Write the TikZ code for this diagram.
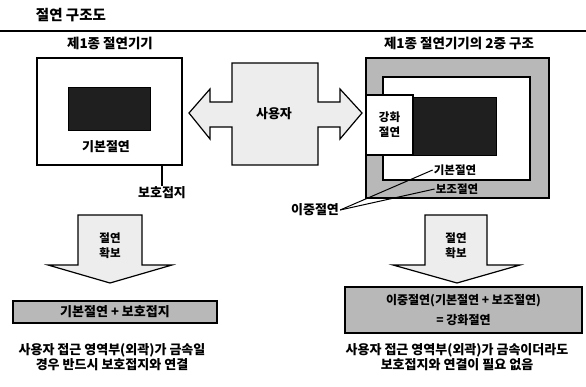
\documentclass[tikz,border=0pt]{standalone}
\usepackage{fontspec}
\setmainfont{Noto Sans CJK KR}
\usepackage{tikz}
\usetikzlibrary{positioning,calc}
\definecolor{dotgray}{gray}{0.93}
\definecolor{bandgray}{gray}{0.72}

\begin{document}
\begin{tikzpicture}[x=1pt, y=-1pt,
  frame/.style={rectangle, draw=black, line width=1.2pt, inner sep=0pt},
  core/.style={rectangle, fill=black!88, draw=black, inner sep=0pt},
  fat/.style={draw=black, line width=1.2pt, fill=dotgray, line join=miter},
  result/.style={rectangle, draw=black, line width=1.2pt, fill=bandgray, align=center, inner sep=0pt, font=\bfseries\fontsize{12}{20}\selectfont},
  head/.style={font=\bfseries\fontsize{13.5}{16}\selectfont},
  lbl/.style={font=\bfseries\fontsize{13}{15}\selectfont, align=center, inner sep=1pt},
  small/.style={font=\bfseries\fontsize{11.5}{15}\selectfont, align=center, inner sep=1pt}
]
\useasboundingbox (0,0) rectangle (586,386);
\node[font=\bfseries\fontsize{14.5}{16}\selectfont] (title) at (71,15) {절연 구조도};
\draw[line width=1.6pt] (0,31) -- (586,31);

\node[head] (h1) at (110,43) {제1종 절연기기};
\node[head] (h2) at (459,43) {제1종 절연기기의 2중 구조};

\node[frame, minimum width=145, minimum height=107] (dev1) at (109.5,111.5) {};
\node[core, minimum width=82, minimum height=43] (core1) at (109,108.5) {};
\node[lbl] (basic1) at (106,147) {기본절연};
\node[lbl] (gnd) at (162,193) {보호접지};
\draw[line width=1.2pt] (dev1.south -| gnd) -- (gnd.north);

\draw[fat] (189,113) -- (210,89) -- (210,102) -- (232,102) -- (232,63) -- (318,63) -- (318,102) -- (340,102)
  -- (340,89) -- (362,113) -- (340,139) -- (340,127) -- (318,127) -- (318,165) -- (232,165)
  -- (232,127) -- (210,127) -- (210,139) -- cycle;
\node[lbl] (user) at (274,114) {사용자};

\node[frame, fill=bandgray, minimum width=183, minimum height=140] (dev2) at (457.5,128) {};
\node[frame, fill=white, minimum width=147, minimum height=103] (inner2) at (456.5,128.5) {};
\node[core, minimum width=83, minimum height=58] (core2) at (454.5,126.5) {};
\node[frame, fill=white, minimum width=47, minimum height=60] (reinf) at (389.5,125) {};
\node[small] at (reinf) {강화\\절연};
\node[small] (basic2) at (455,170) {기본절연};
\node[small] (supp2) at (457,189) {보조절연};
\node[lbl] (dbl) at (315,210) {이중절연};
\draw[line width=1pt] (dbl.east) -- (basic2.west);
\draw[line width=1pt] (dbl.east) -- (supp2.west);

\draw[fat] (78,215) -- (142,215) -- (142,265) -- (172,265) -- (110,283) -- (48,265) -- (78,265) -- cycle;
\node[small] (ok1) at (110,246) {절연\\확보};
\draw[fat] (425,215) -- (487,215) -- (487,265) -- (520,265) -- (457,283) -- (393,265) -- (425,265) -- cycle;
\node[small] (ok2) at (456,246) {절연\\확보};

\node[result, minimum width=204, minimum height=22, font=\bfseries\fontsize{13}{15}\selectfont] (res1) at (115,312) {기본절연 + 보호접지};
\node[result, minimum width=237, minimum height=46] (res2) at (463.5,310) {이중절연(기본절연 + 보조절연)\\= 강화절연};

\node[lbl] (cap1) at (112,357) {사용자 접근 영역부(외곽)가 금속일\\경우 반드시 보호접지와 연결};
\node[lbl] (cap2) at (457,357) {사용자 접근 영역부(외곽)가 금속이더라도\\보호접지와 연결이 필요 없음};
\end{tikzpicture}
\end{document}
